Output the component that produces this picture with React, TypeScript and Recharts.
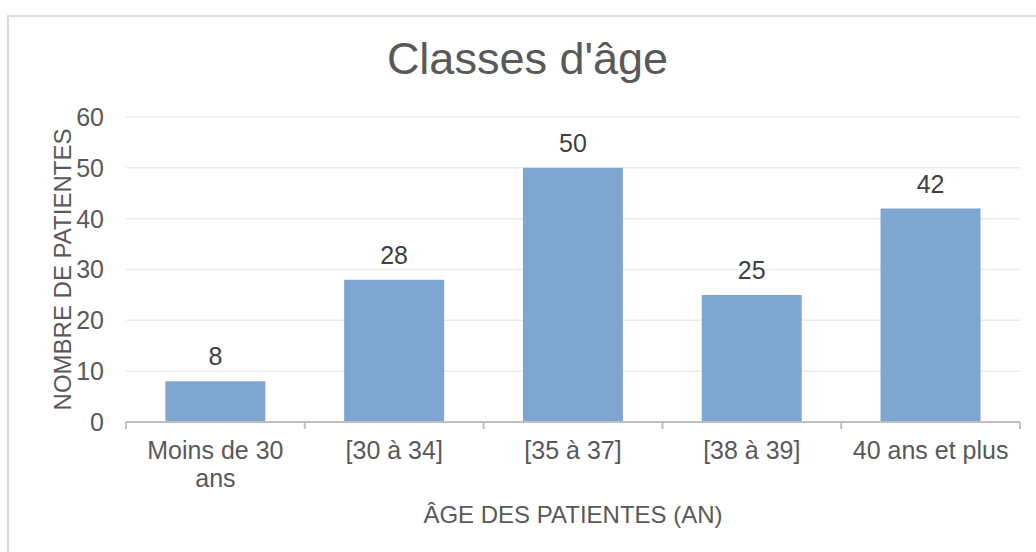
import React from "react";
import {
  Bar,
  BarChart,
  CartesianGrid,
  LabelList,
  XAxis,
  YAxis,
} from "recharts";

const CATEGORIES = ["Moins de 30\nans", "[30 à 34]", "[35 à 37]", "[38 à 39]", "40 ans et plus"];
const PATIENTES = [8, 28, 50, 25, 42];
const Y_TICKS = [0, 10, 20, 30, 40, 50, 60];

const TEXT = "#595959";
const FONT = "'Liberation Sans', Arial, sans-serif";
const AXIS = "#bfbfbf";

const data = CATEGORIES.map((c, i) => ({ name: c, value: PATIENTES[i] }));

function CategoryTick(props: any) {
  const { x, y, payload, index, visibleTicksCount, width } = props;
  const half = payload?.offset ?? width / visibleTicksCount / 2;
  const lines = String(payload.value).split("\n");
  return (
    <g>
      <line x1={x - half} y1={y} x2={x - half} y2={y + 7} stroke={AXIS} strokeWidth={2} />
      {index === visibleTicksCount - 1 ? (
        <line x1={x + half} y1={y} x2={x + half} y2={y + 7} stroke={AXIS} strokeWidth={2} />
      ) : null}
      <text x={x} y={y + 37} textAnchor="middle" fill={TEXT} fontSize={25} fontFamily={FONT}>
        {lines.map((l, i) => (
          <tspan key={i} x={x} dy={i === 0 ? 0 : 28}>
            {l}
          </tspan>
        ))}
      </text>
    </g>
  );
}

export default function App() {
  return (
    <div
      style={{
        position: "fixed",
        left: 0,
        top: 0,
        width: 1036,
        height: 552,
        overflow: "hidden",
        background: "#fff",
        fontFamily: FONT,
      }}
    >
      <div
        style={{
          position: "absolute",
          left: 7,
          top: 15,
          width: 1100,
          height: 600,
          borderLeft: "2px solid #d9d9d9",
          borderTop: "2px solid #d9d9d9",
        }}
      />
      <div
        style={{
          position: "absolute",
          left: 0,
          top: 36,
          width: 1055,
          textAlign: "center",
          fontSize: 45,
          lineHeight: "45px",
          color: TEXT,
        }}
      >
        Classes d'âge
      </div>
      <div style={{ position: "absolute", left: 0, top: 0 }}>
        <BarChart
          width={1036}
          height={552}
          data={data}
          margin={{ top: 117, right: 16, bottom: 0, left: 56 }}
          barCategoryGap="22%"
        >
          <CartesianGrid vertical={false} stroke="#ececec" strokeWidth={1.5} />
          <XAxis
            dataKey="name"
            height={130}
            tickLine={false}
            tickSize={0}
            tickMargin={0}
            interval={0}
            axisLine={{ stroke: AXIS, strokeWidth: 2 }}
            tick={<CategoryTick />}
            label={{
              value: "ÂGE DES PATIENTES (AN)",
              position: "insideBottom",
              offset: 29,
              fill: TEXT,
              fontSize: 24,
              fontFamily: FONT,
            }}
          />
          <YAxis
            width={70}
            domain={[0, 60]}
            ticks={Y_TICKS}
            tickLine={false}
            axisLine={false}
            tickSize={0}
            tickMargin={22}
            tick={{ fill: TEXT, fontSize: 25, fontFamily: FONT }}
            label={{
              value: "NOMBRE DE PATIENTES",
              angle: -90,
              position: "insideLeft",
              textAnchor: "middle",
              offset: 6,
              fill: TEXT,
              fontSize: 24,
              fontFamily: FONT,
            }}
          />
          <Bar dataKey="value" fill="#7fa6d0" isAnimationActive={false}>
            <LabelList
              dataKey="value"
              position="top"
              offset={16}
              fill="#404040"
              fontSize={25}
              fontFamily={FONT}
            />
          </Bar>
        </BarChart>
      </div>
    </div>
  );
}
